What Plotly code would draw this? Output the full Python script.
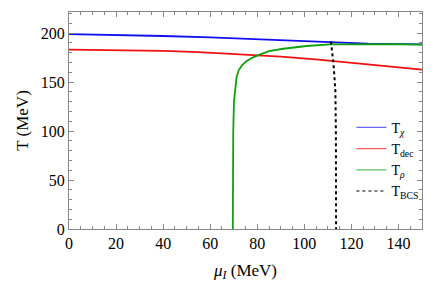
import plotly.graph_objects as go

# --- data ---
mu_chi = [0, 20, 40, 60, 80, 100, 112, 127, 150]
T_chi = [199.0, 198.2, 197.0, 195.5, 193.5, 191.6, 190.5, 189.3, 188.5]

mu_dec = [0, 20, 40, 55, 70, 80, 90, 106, 113, 130, 150]
T_dec = [183.0, 182.6, 181.8, 180.6, 178.8, 177.5, 176.0, 172.9, 171.3, 167.5, 162.7]

mu_rho = [69.6, 69.65, 69.8, 70.1, 70.6, 71.2, 72.1, 73.5, 75.5, 78, 81, 85, 91, 101, 111, 125, 140, 150]
T_rho = [0, 50, 100, 130, 145, 155, 162, 167, 171.5, 175, 178, 181.5, 184, 186.8, 188.5, 188.8, 188.6, 188.3]

mu_bcs = [111.3, 111.8, 112.3, 112.8, 113.2, 113.4, 113.5]
T_bcs = [191.5, 182, 170.5, 155, 140, 100, 0]

x_ticks = [0, 20, 40, 60, 80, 100, 120, 140]
y_ticks = [0, 50, 100, 150, 200]

names = ["T<sub><i>χ</i></sub>", "T<sub>dec</sub>", "T<sub><i>ρ</i></sub>", "T<sub>BCS</sub>"]
colors = ["#1010f0", "#f01010", "#10a010", "black"]

FONT = "Liberation Serif"

fig = go.Figure()
series = [(mu_chi, T_chi), (mu_dec, T_dec), (mu_rho, T_rho), (mu_bcs, T_bcs)]
for i, (xs, ys) in enumerate(series):
    dash = "dot" if i == 3 else "solid"
    fig.add_trace(go.Scatter(x=xs, y=ys, mode="lines", showlegend=False,
                             line=dict(color=colors[i], width=2 if i == 3 else 1.8, dash=dash)))
# legend entries (thin lines as in the reference legend)
for i in range(4):
    dash = "dot" if i == 3 else "solid"
    c = colors[i] if i == 3 else ["#6a6af8", "#f06060", "#60c060"][i]
    fig.add_trace(go.Scatter(x=[None], y=[None], mode="lines", name=names[i],
                             line=dict(color=c, width=1.2, dash=dash)))

axis_common = dict(
    showgrid=False, zeroline=False, showline=True, linecolor="#888888", linewidth=1,
    mirror="ticks", ticks="inside", ticklen=5, tickcolor="#888888", automargin=False,
    tickfont=dict(family=FONT, size=16, color="black"),
)

fig.update_xaxes(range=[0, 150], tickvals=x_ticks,
                 minor=dict(dtick=5, ticks="inside", ticklen=3, tickcolor="#888888"),
                 title=dict(text="<i>μ<sub>I</sub></i> (MeV)", font=dict(family=FONT, size=17, color="black"), standoff=12),
                 **axis_common)
fig.update_yaxes(range=[0, 221.5], tickvals=y_ticks,
                 minor=dict(dtick=10, ticks="inside", ticklen=3, tickcolor="#888888"),
                 title=dict(text="T (MeV)", font=dict(family=FONT, size=17, color="black"), standoff=7),
                 **axis_common)

fig.update_layout(
    width=426, height=286,
    margin=dict(l=61, r=12, t=4, b=65),
    plot_bgcolor="white", paper_bgcolor="white",
    legend=dict(x=0.80, y=0.54, xanchor="left", yanchor="top", tracegroupgap=0,
                bgcolor="rgba(0,0,0,0)", font=dict(family=FONT, size=14, color="black")),
)

fig.write_html("out.html")
